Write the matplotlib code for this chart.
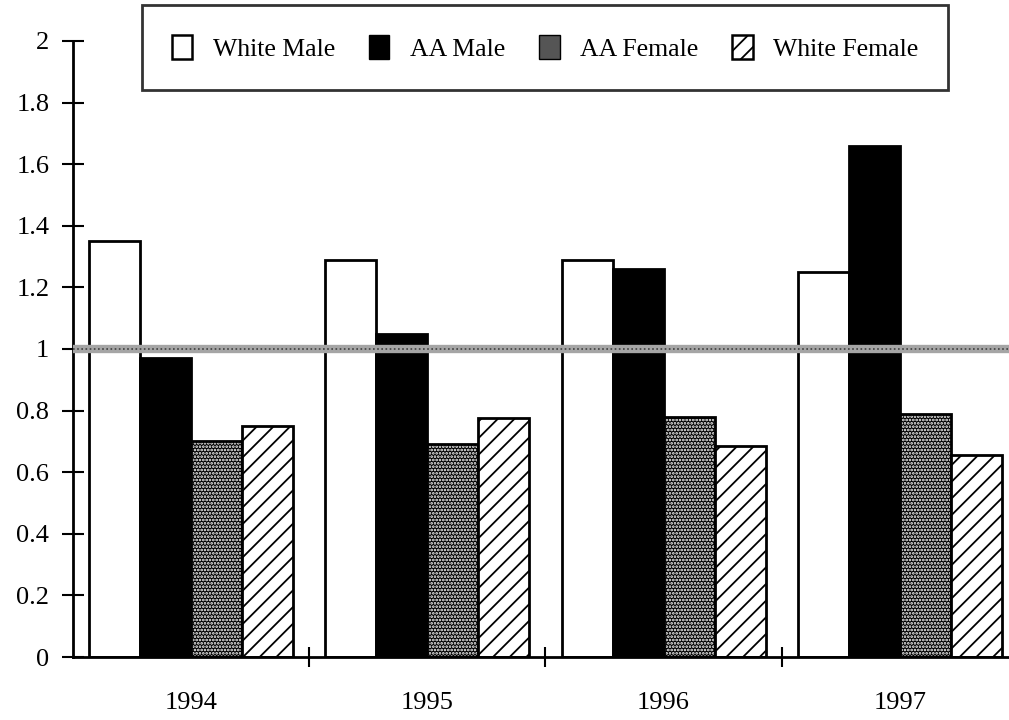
import numpy as np
import matplotlib.pyplot as plt
from matplotlib.patches import Patch

years = ['1994', '1995', '1996', '1997']
white_male = [1.35, 1.29, 1.29, 1.25]
aa_male = [0.97, 1.05, 1.26, 1.66]
aa_female = [0.70, 0.69, 0.78, 0.79]
white_female = [0.75, 0.775, 0.685, 0.655]
y_ticks = [0, 0.2, 0.4, 0.6, 0.8, 1, 1.2, 1.4, 1.6, 1.8, 2]
y_labels = ['0', '0.2', '0.4', '0.6', '0.8', '1', '1.2', '1.4', '1.6', '1.8', '2']

plt.rcParams['font.family'] = ['Liberation Serif', 'DejaVu Serif']
plt.rcParams['hatch.linewidth'] = 1.3

fig = plt.figure(figsize=(10.09, 7.2), dpi=100)
ax = fig.add_axes([0.0723, 0.0875, 0.9366, 0.8556])

x = np.arange(len(years))
w = 0.216
ax.bar(x - 1.5 * w, white_male, w, color='white', edgecolor='black', lw=2)
ax.bar(x - 0.5 * w, aa_male, w, color='black', edgecolor='black', lw=2)
ax.bar(x + 0.5 * w, aa_female, w, color='black', edgecolor='white', hatch='.....', lw=0)
ax.bar(x + 0.5 * w, aa_female, w, fill=False, edgecolor='black', lw=2)
ax.bar(x + 1.5 * w, white_female, w, color='white', edgecolor='black', hatch='//', lw=2)

ax.axhline(1, color='#a5a5a5', lw=6, zorder=5)
ax.axhline(1, color='#404040', lw=1.2, ls=(0, (1, 1.5)), zorder=6)

ax.set_xlim(-0.5, 3.5)
ax.set_ylim(0, 2)
ax.set_yticks(y_ticks)
ax.set_yticklabels(y_labels, fontsize=19)
ax.set_xticks(x)
ax.set_xticklabels(years, fontsize=19)
ax.set_xticks([0.5, 1.5, 2.5], minor=True)
ax.tick_params(axis='x', which='major', length=0, pad=25)
ax.tick_params(axis='x', which='minor', direction='inout', length=14, width=1.5)
ax.tick_params(axis='y', direction='inout', length=16, width=1.5, pad=9)
for s in ['top', 'right']:
    ax.spines[s].set_visible(False)
for s in ['left', 'bottom']:
    ax.spines[s].set_linewidth(2)

handles = [
    Patch(facecolor='white', edgecolor='black', lw=1.8, label='White Male'),
    Patch(facecolor='black', edgecolor='black', label='AA Male'),
    Patch(facecolor='#555555', edgecolor='black', label='AA Female'),
    Patch(facecolor='white', edgecolor='black', hatch='//', lw=1.8, label='White Female'),
]
leg = fig.legend(handles=handles, ncol=4, loc='upper left', mode='expand',
                 bbox_to_anchor=(0.1407, 0.0, 0.799, 0.993),
                 fontsize=18.5, frameon=True, fancybox=False, edgecolor='black',
                 handlelength=0.8, handleheight=1.1, handletextpad=0.8,
                 borderpad=1.15, borderaxespad=0)
leg.get_frame().set_linewidth(2)

fig.savefig('out.png', dpi=100)
